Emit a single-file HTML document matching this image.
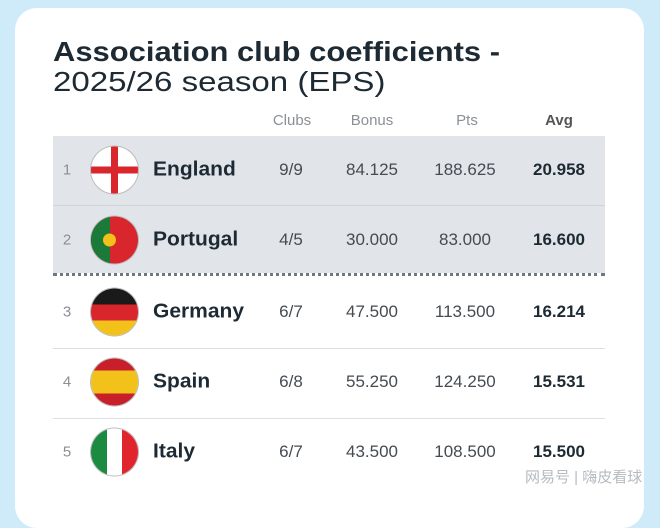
<!DOCTYPE html>
<html><head><meta charset="utf-8"><style>
body{margin:0;width:660px;height:495px;overflow:hidden;background:#cfeaf9;font-family:"Liberation Sans",sans-serif;position:relative}
.card{position:absolute;left:15px;top:8px;width:629px;height:520px;background:#fff;border-radius:22px}
.t{position:absolute;left:53px;color:#1d2a33;font-size:28px;white-space:nowrap;transform-origin:left top}
.h{position:absolute;top:112px;font-size:15px;color:#8a9096;transform:translateX(-50%)}
.grey{position:absolute;left:53px;width:552px;background:#e1e5e9}
.c{position:absolute;font-size:17px;color:#444b52;transform:translate(-50%,-50%)}
.r{position:absolute;left:67px;font-size:15px;color:#8a9096;transform:translate(-50%,-50%)}
.n{position:absolute;left:153px;font-size:20px;font-weight:bold;color:#1d2a33;transform:translateY(-50%) scaleX(1.05);transform-origin:left center}
.a{font-weight:bold;color:#1d2a33}
.f{position:absolute;left:91px;width:47px;height:47px;border-radius:50%;overflow:hidden;transform:translateY(-50%);box-shadow:0 0 0 1px #bbb}
.line{position:absolute;left:53px;width:552px;height:1px;background:#dde0e3}
</style></head><body>
<div class="card"></div>
<div class="t" style="top:36px;font-weight:bold;transform:scaleX(1.105)">Association club coefficients -</div>
<div class="t" style="top:66px;transform:scaleX(1.18)">2025/26 season (EPS)</div>
<div class="h" style="left:292px">Clubs</div>
<div class="h" style="left:372px">Bonus</div>
<div class="h" style="left:467px">Pts</div>
<div class="h" style="left:559px;font-weight:bold;color:#555">Avg</div>
<div class="grey" style="top:136px;height:137px"></div>
<div class="line" style="top:205px;background:#cfd4d8"></div>
<div style="position:absolute;left:53px;top:273px;width:552px;border-top:3px dotted #6f7880"></div>
<div class="line" style="top:348px"></div>
<div class="line" style="top:418px"></div>

<div class="f" style="top:170px;background:#fff"><div style="position:absolute;left:20px;top:0;width:7px;height:47px;background:#d8262c"></div><div style="position:absolute;top:20px;left:0;height:7px;width:47px;background:#d8262c"></div></div>
<div class="f" style="top:240px;background:#d8262c"><div style="width:19px;height:47px;background:#1b7a3a"></div><div style="position:absolute;left:12px;top:17px;width:13px;height:13px;border-radius:50%;background:#f2c21b"></div></div>
<div class="f" style="top:312px"><div style="height:16px;background:#1a1a1a"></div><div style="height:16px;background:#d8262c"></div><div style="height:15px;background:#f2c21b"></div></div>
<div class="f" style="top:382px"><div style="height:12px;background:#c8202a"></div><div style="height:23px;background:#f2c21b"></div><div style="height:12px;background:#c8202a"></div></div>
<div class="f" style="top:452px;display:flex"><div style="width:16px;background:#1c8a40"></div><div style="width:15px;background:#fff"></div><div style="width:16px;background:#e0262c"></div></div>

<div class="r" style="top:170px">1</div><div class="n" style="top:170px">England</div>
<div class="c" style="left:291px;top:170px">9/9</div><div class="c" style="left:372px;top:170px">84.125</div><div class="c" style="left:465px;top:170px">188.625</div><div class="c a" style="left:559px;top:170px">20.958</div>
<div class="r" style="top:240px">2</div><div class="n" style="top:240px">Portugal</div>
<div class="c" style="left:291px;top:240px">4/5</div><div class="c" style="left:372px;top:240px">30.000</div><div class="c" style="left:465px;top:240px">83.000</div><div class="c a" style="left:559px;top:240px">16.600</div>
<div class="r" style="top:312px">3</div><div class="n" style="top:312px">Germany</div>
<div class="c" style="left:291px;top:312px">6/7</div><div class="c" style="left:372px;top:312px">47.500</div><div class="c" style="left:465px;top:312px">113.500</div><div class="c a" style="left:559px;top:312px">16.214</div>
<div class="r" style="top:382px">4</div><div class="n" style="top:382px">Spain</div>
<div class="c" style="left:291px;top:382px">6/8</div><div class="c" style="left:372px;top:382px">55.250</div><div class="c" style="left:465px;top:382px">124.250</div><div class="c a" style="left:559px;top:382px">15.531</div>
<div class="r" style="top:452px">5</div><div class="n" style="top:452px">Italy</div>
<div class="c" style="left:291px;top:452px">6/7</div><div class="c" style="left:372px;top:452px">43.500</div><div class="c" style="left:465px;top:452px">108.500</div><div class="c a" style="left:559px;top:452px">15.500</div>
<div style="position:absolute;left:525px;top:466px;font-size:15px;color:#b5bbc0;font-family:'Liberation Sans','Noto Sans CJK SC',sans-serif;white-space:nowrap">网易号 | 嗨皮看球</div>
</body></html>
